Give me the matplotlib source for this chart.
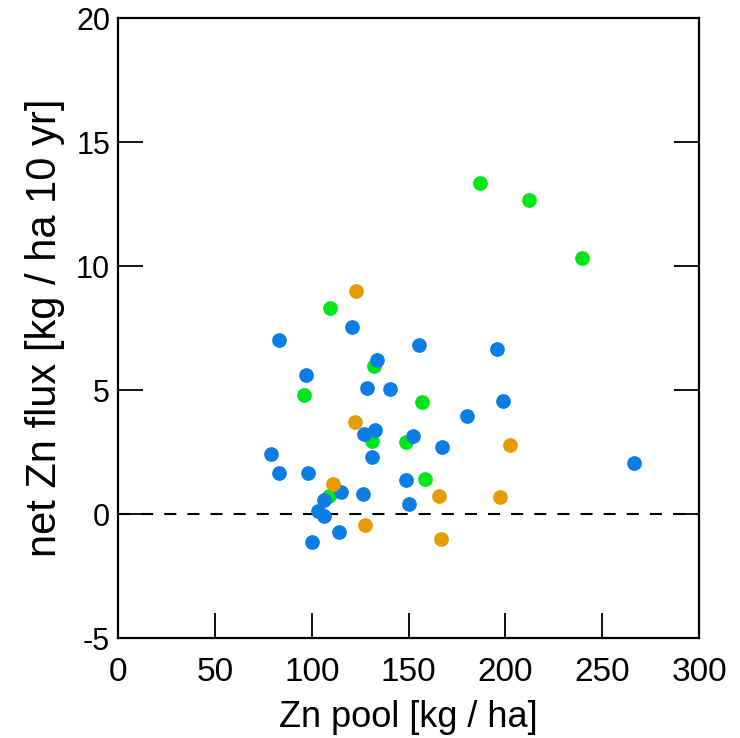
import numpy as np
import matplotlib
matplotlib.use("Agg")
import matplotlib.pyplot as plt

plt.rcParams['font.family'] = ['Liberation Sans', 'DejaVu Sans']
plt.rcParams['axes.unicode_minus'] = False

# blue group
blue_x = [120.5, 82.9, 155.1, 195.6, 133.8, 96.7, 128.3, 140.5, 198.7, 180.1,
          132.7, 127.0, 152.2, 167.3, 79.0, 130.8, 82.8, 97.8, 148.6, 115.1,
          126.2, 106.2, 150.0, 103.3, 106.2, 114.1, 99.8, 266.4]
blue_y = [7.54, 7.00, 6.80, 6.65, 6.21, 5.60, 5.07, 5.05, 4.57, 3.94,
          3.39, 3.21, 3.16, 2.71, 2.42, 2.28, 1.67, 1.64, 1.37, 0.89,
          0.82, 0.56, 0.39, 0.12, -0.08, -0.73, -1.14, 2.06]
# green group
green_x = [186.7, 212.3, 239.7, 109.1, 132.0, 96.0, 157.0, 130.8, 148.4, 158.4, 109.0]
green_y = [13.33, 12.65, 10.34, 8.31, 5.97, 4.81, 4.50, 2.94, 2.89, 1.40, 0.74]
# orange group
orange_x = [122.9, 122.4, 202.3, 110.9, 165.5, 197.2, 127.4, 166.7]
orange_y = [8.98, 3.71, 2.77, 1.20, 0.74, 0.70, -0.43, -1.01]

fig = plt.figure(figsize=(7.4, 7.38), dpi=100)
ax = fig.add_axes([0.160, 0.1355, 0.7846, 0.8401])

ax.axhline(0, color='black', lw=1.5, ls=(0, (5.8, 5.3)), zorder=1)
ax.scatter(green_x, green_y, s=112, color='#00e61a', lw=0, zorder=2)
ax.scatter(blue_x, blue_y, s=112, color='#0a7de6', lw=0, zorder=3)
ax.scatter(orange_x, orange_y, s=112, color='#e69c00', lw=0, zorder=4)

ax.set_xlim(0, 300)
ax.set_ylim(-5, 20)
ax.set_xticks(np.arange(0, 301, 50))
ax.set_yticks(np.arange(-5, 21, 5))
ax.tick_params(direction='in', length=18, width=1.3, top=False, right=True)
ax.tick_params(axis='x', labelsize=24, pad=14)
ax.tick_params(axis='y', labelsize=22, pad=6)
for sp in ax.spines.values():
    sp.set_linewidth(1.6)

ax.set_xlabel('Zn pool [kg / ha]', fontsize=26, labelpad=8)
ax.set_ylabel('net Zn flux [kg / ha 10 yr]', fontsize=30, labelpad=8)

fig.savefig('out.png', dpi=100)
